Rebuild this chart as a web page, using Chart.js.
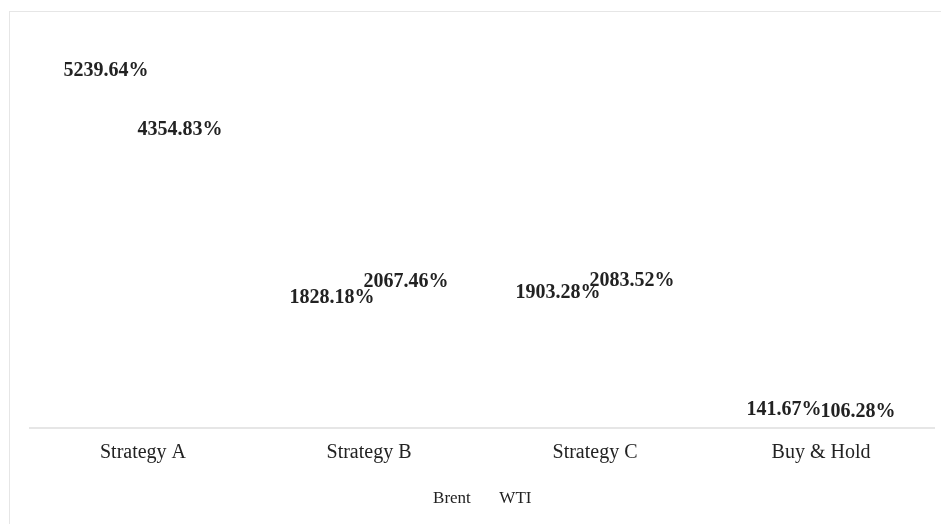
<!DOCTYPE html>
<html>
<head>
<meta charset="utf-8">
<script src="https://cdn.jsdelivr.net/npm/chart.js@4.4.1/dist/chart.umd.min.js"></script>
<style>
  html, body { margin: 0; padding: 0; background: #ffffff; overflow: hidden; }
  #wrap { position: absolute; left: 9px; top: 11px; width: 940px; height: 520px;
          border-left: 1px solid #e6e6e6; border-top: 1px solid #e6e6e6; }
  #box { position: absolute; left: 0; top: 0; width: 931px; height: 512px; }
</style>
</head>
<body>
<div id="wrap"><div id="box"><canvas id="c"></canvas></div></div>
<script>
const categories = ["Strategy A", "Strategy B", "Strategy C", "Buy & Hold"];
const seriesNames = ["Brent", "WTI"];
const brentValues = [5239.64, 1828.18, 1903.28, 141.67];
const wtiValues = [4354.83, 2067.46, 2083.52, 106.28];
const yMax = 6000;

const SERIF = '"Liberation Serif", "Times New Roman", serif';

const valueLabels = {
  id: 'valueLabels',
  afterDatasetsDraw(chart) {
    const ctx = chart.ctx;
    ctx.save();
    ctx.font = 'bold 20px ' + SERIF;
    ctx.fillStyle = '#222222';
    ctx.textAlign = 'center';
    ctx.textBaseline = 'alphabetic';
    chart.data.datasets.forEach((ds, di) => {
      const meta = chart.getDatasetMeta(di);
      meta.data.forEach((bar, i) => {
        ctx.fillText(ds.data[i].toFixed(2) + '%', bar.x, bar.y - 4);
      });
    });
    ctx.restore();
  }
};

new Chart(document.getElementById('c'), {
  type: 'bar',
  data: {
    labels: categories,
    datasets: [
      { label: seriesNames[0], data: brentValues, backgroundColor: 'rgba(0,0,0,0)', borderWidth: 0 },
      { label: seriesNames[1], data: wtiValues, backgroundColor: 'rgba(0,0,0,0)', borderWidth: 0 }
    ]
  },
  options: {
    responsive: true,
    maintainAspectRatio: false,
    animation: false,
    events: [],
    layout: { padding: { left: 4, right: 7, top: 18, bottom: 7 } },
    datasets: { bar: { categoryPercentage: 0.655, barPercentage: 0.9 } },
    scales: {
      x: {
        grid: { display: false, drawTicks: false },
        border: { display: true, color: '#e6e6e6', width: 2 },
        ticks: { padding: 13, color: '#222222', font: { family: SERIF, size: 20 } }
      },
      y: {
        display: true,
        min: 0,
        max: yMax,
        grid: { display: false, drawTicks: false },
        border: { display: false },
        ticks: { display: false },
        afterFit(axis) { axis.width = 16; }
      }
    },
    plugins: {
      legend: {
        display: true,
        position: 'bottom',
        labels: {
          boxWidth: 8,
          boxHeight: 0,
          padding: 12,
          color: '#222222',
          font: { family: SERIF, size: 17 }
        }
      },
      tooltip: { enabled: false }
    }
  },
  plugins: [valueLabels]
});
</script>
</body>
</html>
